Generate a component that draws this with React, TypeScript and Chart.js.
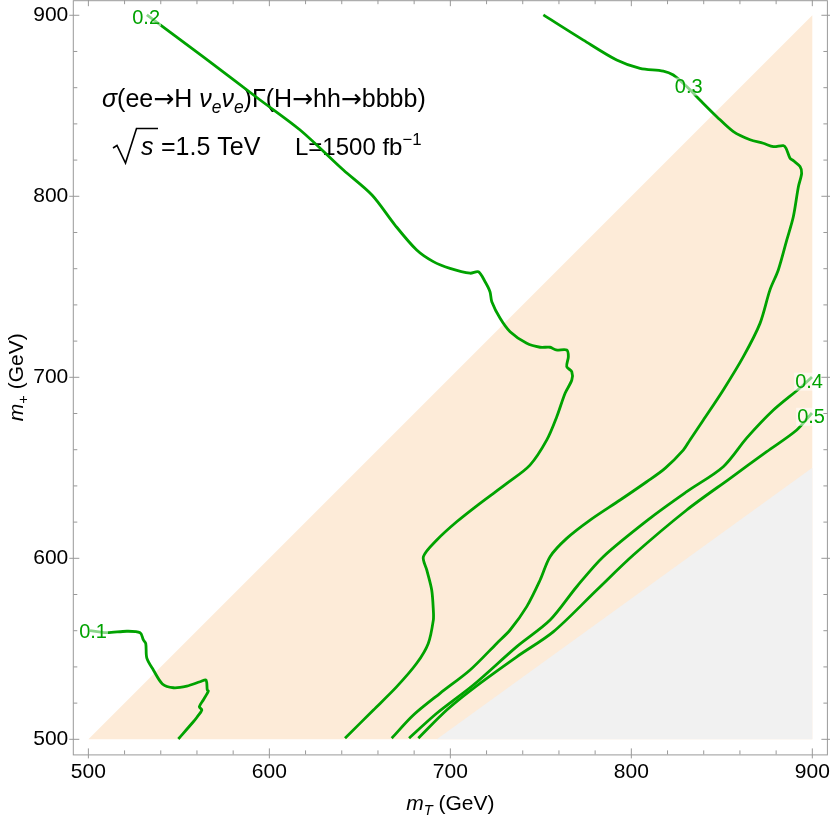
import React, { useEffect, useRef } from 'react';
import { Chart, registerables } from 'chart.js';

Chart.register(...registerables);

// ---------- data ----------
const xTicks = [500, 600, 700, 800, 900];
const yTicks = [500, 600, 700, 800, 900];
const minorTicks = [520, 540, 560, 580, 620, 640, 660, 680, 720, 740, 760, 780, 820, 840, 860, 880];

const contourLevels = ['0.1', '0.2', '0.3', '0.4', '0.5'];

const contour01 = [
  [500.9, 560.0], [510.2, 558.9], [521.2, 559.7], [528.6, 558.9], [530.4, 554.9], [531.7, 553.0],
  [532.3, 544.8], [535.9, 538.3], [540.9, 530.6], [547.0, 528.5], [554.4, 529.4], [561.7, 531.8],
  [564.9, 532.8], [565.4, 531.3], [565.7, 527.2], [566.3, 526.7], [563.5, 521.7], [561.3, 518.0],
  [562.7, 516.2], [560.2, 512.5], [558.0, 509.7], [549.7, 500.2],
];
const contour02 = [
  [532.3, 900.2], [563.5, 877.0], [594.9, 853.2], [617.0, 836.6], [640.9, 814.5], [656.7, 800.7],
  [669.4, 784.1], [681.4, 770.3], [690.6, 763.9], [699.8, 760.2], [710.9, 757.5], [715.5, 758.3],
  [719.2, 752.8], [721.9, 747.3], [722.9, 741.8], [727.5, 732.6], [733.0, 725.2], [742.2, 718.8],
  [749.6, 716.6], [755.1, 716.6], [758.4, 715.1], [764.3, 715.1], [765.2, 711.4], [764.3, 705.9],
  [767.1, 703.1], [767.1, 698.5], [763.4, 691.2], [758.8, 678.2], [753.3, 665.4], [744.0, 651.5],
  [731.2, 641.4], [716.4, 630.4], [703.5, 620.2], [692.5, 610.1], [685.1, 600.9], [687.0, 593.5],
  [689.7, 582.5], [690.6, 571.4], [690.6, 565.9], [687.8, 553.0], [681.4, 542.0], [670.4, 529.1],
  [657.5, 516.2], [641.8, 500.6],
];
const contour03 = [
  [751.4, 900.2], [773.5, 886.3], [791.9, 875.3], [804.8, 870.7], [817.7, 869.2], [823.2, 867.0],
  [830.6, 860.6], [837.9, 853.2], [847.2, 844.0], [856.4, 835.7], [865.6, 831.2], [872.9, 829.3],
  [878.5, 827.4], [884.0, 828.0], [885.5, 826.5], [887.7, 821.0], [889.5, 819.7], [893.2, 816.4],
  [894.1, 812.7], [892.3, 805.3], [889.5, 788.7], [885.9, 775.9], [881.2, 759.3], [876.6, 748.3],
  [871.1, 729.8], [861.9, 711.4], [850.8, 693.0], [839.8, 676.4], [832.4, 665.4], [828.7, 659.8],
  [818.6, 649.7], [808.5, 642.3], [793.8, 632.2], [777.2, 621.1], [764.3, 611.0], [755.1, 600.9],
  [749.6, 588.0], [742.2, 573.3], [733.0, 560.4], [725.6, 553.0], [710.9, 538.3], [694.3, 525.4],
  [679.6, 513.4], [667.6, 500.6],
];
const contour04 = [
  [899.8, 700.2], [893.2, 694.1], [878.5, 681.9], [863.8, 666.5], [850.8, 650.6], [830.6, 636.8],
  [810.3, 622.1], [784.5, 600.9], [769.8, 584.3], [755.1, 565.9], [736.7, 551.2], [712.7, 530.0],
  [692.5, 514.4], [677.2, 500.6],
];
const contour05 = [
  [899.8, 680.3], [891.4, 670.9], [874.8, 658.9], [854.6, 644.2], [830.6, 626.7], [801.1, 601.8],
  [780.9, 582.5], [757.0, 559.5], [736.7, 545.6], [712.7, 528.2], [698.0, 516.2], [682.3, 500.6],
];
const contours = [contour01, contour02, contour03, contour04, contour05];

// label anchor points (data coordinates)
const labelPoints = [[502.6, 559.3], [531.9, 898.9], [831.7, 860.6], [898.2, 697.6], [899.3, 678.2]];

// shaded regions (data coordinates)
const allowedRegion = [[500, 500], [900, 900], [900, 500]];
const excludedRegion = [[692.5, 500], [900, 650], [900, 500]];

// ---------- styles ----------
const GREEN = '#00a200';
const ORANGE = '#fdebd8';
const GREY = '#f1f1f1';
const FRAME = '#999999';
const FONT = '"Liberation Sans", Arial, sans-serif';
const ARROW_FONT = '"DejaVu Sans", sans-serif';

type Run = { t: string; it?: boolean; sub?: boolean; sup?: boolean; fam?: string };

function setFont(ctx: CanvasRenderingContext2D, r: Run, size: number) {
  const s = r.sub || r.sup ? size * 0.7 : size;
  ctx.font = `${r.it ? 'italic ' : ''}${s}px ${r.fam || FONT}`;
}

function runsWidth(ctx: CanvasRenderingContext2D, runs: Run[], size: number) {
  let w = 0;
  for (const r of runs) {
    setFont(ctx, r, size);
    w += ctx.measureText(r.t).width;
  }
  return w;
}

function drawRuns(ctx: CanvasRenderingContext2D, runs: Run[], x0: number, y0: number, size: number) {
  let x = x0;
  ctx.textBaseline = 'alphabetic';
  ctx.textAlign = 'left';
  for (const r of runs) {
    setFont(ctx, r, size);
    const dy = r.sub ? size * 0.22 : r.sup ? -size * 0.42 : 0;
    ctx.fillText(r.t, x, y0 + dy);
    x += ctx.measureText(r.t).width;
  }
  return x;
}

const AR: Run = { t: '→', fam: ARROW_FONT };
const line1: Run[] = [
  { t: 'σ', it: true }, { t: '(ee' }, AR, { t: 'H ' }, { t: 'ν', it: true }, { t: 'e', it: true, sub: true },
  { t: 'ν', it: true }, { t: 'e', it: true, sub: true }, { t: ')Γ(H' }, AR, { t: 'hh' }, AR, { t: 'bbbb)' },
];
const line2a: Run[] = [{ t: '=1.5 TeV' }];
const line2b: Run[] = [{ t: 'L=1500 fb' }, { t: '−1', sup: true }];
const xTitle: Run[] = [{ t: 'm', it: true }, { t: 'T', it: true, sub: true }, { t: ' (GeV)' }];
const yTitle: Run[] = [{ t: 'm', it: true }, { t: '+', sub: true }, { t: ' (GeV)' }];

const customPlugin = {
  id: 'customDraw',
  beforeDatasetsDraw(chart: any) {
    const { ctx, scales } = chart;
    const xs = scales.x, ys = scales.y;
    const poly = (pts: number[][], color: string) => {
      ctx.save();
      ctx.beginPath();
      pts.forEach(([a, b], i) => {
        const px = xs.getPixelForValue(a), py = ys.getPixelForValue(b);
        if (i === 0) ctx.moveTo(px, py); else ctx.lineTo(px, py);
      });
      ctx.closePath();
      ctx.fillStyle = color;
      ctx.fill();
      ctx.restore();
    };
    poly(allowedRegion, ORANGE);
    poly(excludedRegion, GREY);

    // annotation text
    ctx.save();
    ctx.fillStyle = '#000';
    drawRuns(ctx, line1, 102, 107, 25);
    // radical sign
    ctx.strokeStyle = '#000';
    ctx.lineWidth = 1.6;
    ctx.beginPath();
    ctx.moveTo(113, 148);
    ctx.lineTo(117, 145.5);
    ctx.lineTo(125.5, 163);
    ctx.lineTo(136.5, 128.5);
    ctx.lineTo(158, 128.5);
    ctx.stroke();
    drawRuns(ctx, [{ t: 's', it: true }], 141, 155, 25);
    drawRuns(ctx, line2a, 161, 155, 25);
    drawRuns(ctx, line2b, 295, 155, 24);
    ctx.restore();
  },
  afterDatasetsDraw(chart: any) {
    const { ctx, scales } = chart;
    ctx.save();
    ctx.font = `20px ${FONT}`;
    ctx.textAlign = 'center';
    ctx.textBaseline = 'middle';
    contourLevels.forEach((lab, i) => {
      const px = scales.x.getPixelForValue(labelPoints[i][0]);
      const py = scales.y.getPixelForValue(labelPoints[i][1]);
      const w = ctx.measureText(lab).width;
      ctx.fillStyle = 'rgba(255,255,255,0.55)';
      ctx.fillRect(px - w / 2 - 1, py - 9, w + 2, 18);
      ctx.fillStyle = GREEN;
      ctx.fillText(lab, px, py + 1);
    });
    ctx.restore();
  },
  afterDraw(chart: any) {
    const { ctx, chartArea, scales } = chart;
    const { left, right, top, bottom } = chartArea;
    ctx.save();
    ctx.strokeStyle = FRAME;
    ctx.lineWidth = 1;
    ctx.strokeRect(left, top + 0.5, right - left, bottom - top);
    const tick = (v: number, len: number, out: number) => {
      const px = scales.x.getPixelForValue(v);
      const py = scales.y.getPixelForValue(v);
      ctx.beginPath();
      ctx.moveTo(px, bottom + out); ctx.lineTo(px, bottom - len);
      ctx.moveTo(px, top - out); ctx.lineTo(px, top + len);
      ctx.moveTo(left - out, py); ctx.lineTo(left + len, py);
      ctx.moveTo(right + out, py); ctx.lineTo(right - len, py);
      ctx.stroke();
    };
    xTicks.forEach(v => tick(v, 6, 4));
    minorTicks.forEach(v => tick(v, 4, 0));

    // axis titles
    ctx.fillStyle = '#000';
    const ws = runsWidth(ctx, xTitle, 21);
    drawRuns(ctx, xTitle, (left + right) / 2 - ws / 2, 810, 21);
    const wy = runsWidth(ctx, yTitle, 21);
    ctx.translate(23, (top + bottom) / 2);
    ctx.rotate(-Math.PI / 2);
    drawRuns(ctx, yTitle, -wy / 2, 0, 21);
    ctx.restore();
  },
};

export default function App() {
  const ref = useRef<HTMLCanvasElement | null>(null);
  useEffect(() => {
    document.body.style.margin = '0';
    if (!ref.current) return;
    const chart = new Chart(ref.current, {
      type: 'scatter',
      data: {
        datasets: contours.map((c, i) => ({
          label: contourLevels[i],
          data: c.map(([x, y]) => ({ x, y })),
          showLine: true,
          borderColor: GREEN,
          backgroundColor: GREEN,
          borderWidth: 2.8,
          pointRadius: 0,
          tension: 0.3,
          fill: false,
          borderJoinStyle: 'round' as const,
        })),
      },
      options: {
        animation: false,
        responsive: false,
        devicePixelRatio: 1,
        layout: { padding: { left: 0, top: 0.2, right: 2.6, bottom: 0 } },
        plugins: { legend: { display: false }, tooltip: { enabled: false } },
        scales: {
          x: {
            type: 'linear',
            min: 491.67,
            max: 908.33,
            grid: { display: false, drawTicks: false },
            border: { display: false },
            afterBuildTicks: (s: any) => { s.ticks = xTicks.map(v => ({ value: v })); },
            afterFit: (s: any) => { s.height = 61.6; s.paddingLeft = 0; s.paddingRight = 0; },
            ticks: { color: '#000', font: { size: 21, family: FONT }, padding: 5, maxRotation: 0, callback: (v: any) => String(v) },
          },
          y: {
            type: 'linear',
            min: 491.67,
            max: 908.33,
            grid: { display: false, drawTicks: false },
            border: { display: false },
            afterBuildTicks: (s: any) => { s.ticks = yTicks.map(v => ({ value: v })); },
            afterFit: (s: any) => { s.width = 73.3; s.paddingTop = 0; s.paddingBottom = 0; },
            ticks: { color: '#000', font: { size: 21, family: FONT }, padding: 5, callback: (v: any) => String(v) },
          },
        },
      },
      plugins: [customPlugin],
    });
    return () => chart.destroy();
  }, []);
  return (
    <div style={{ position: 'absolute', left: 0, top: 0, width: 830, height: 816 }}>
      <canvas ref={ref} width={830} height={816} />
    </div>
  );
}
